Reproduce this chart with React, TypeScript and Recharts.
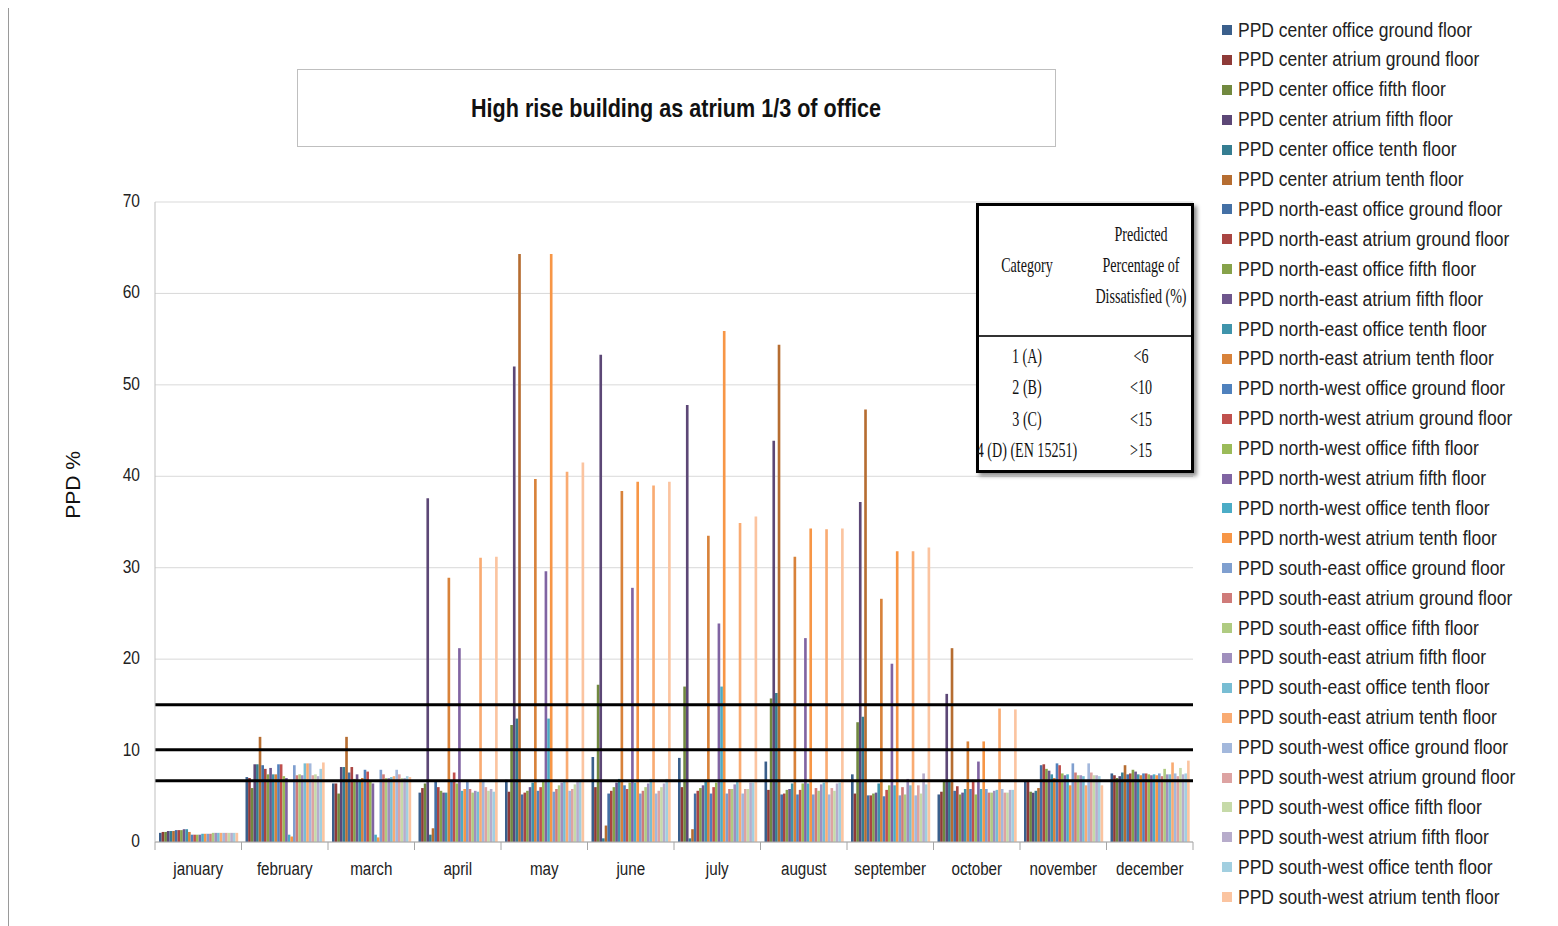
import { BarChart, Bar, XAxis, YAxis, CartesianGrid, ReferenceLine } from "recharts"

const MONTHS = [
  "january", "february", "march", "april", "may", "june",
  "july", "august", "september", "october", "november", "december",
]

const SERIES_NAMES = [
  "PPD center office ground floor", "PPD center atrium ground floor",
  "PPD center office fifth floor", "PPD center atrium fifth floor",
  "PPD center office tenth floor", "PPD center atrium tenth floor",
  "PPD north-east office ground floor", "PPD north-east atrium ground floor",
  "PPD north-east office fifth floor", "PPD north-east atrium fifth floor",
  "PPD north-east office tenth floor", "PPD north-east atrium tenth floor",
  "PPD north-west office ground floor", "PPD north-west atrium ground floor",
  "PPD north-west office fifth floor", "PPD north-west atrium fifth floor",
  "PPD north-west office tenth floor", "PPD north-west atrium tenth floor",
  "PPD south-east office ground floor", "PPD south-east atrium ground floor",
  "PPD south-east office fifth floor", "PPD south-east atrium fifth floor",
  "PPD south-east office tenth floor", "PPD south-east atrium tenth floor",
  "PPD south-west office ground floor", "PPD south-west atrium ground floor",
  "PPD south-west office fifth floor", "PPD south-west atrium fifth floor",
  "PPD south-west office tenth floor", "PPD south-west atrium tenth floor",
]

const SERIES_COLORS = [
  "#3a5f8b", "#8e3a38", "#71893f", "#5c4776", "#357d91", "#b66d31",
  "#4470a5", "#a94542", "#86a24a", "#6e568c", "#3f94ab", "#d8823a",
  "#4f81bd", "#c0504d", "#9bbb59", "#8064a2", "#4bacc6", "#f79646",
  "#7f9fcf", "#cf7b79", "#afcb81", "#a08fbd", "#78bdd3", "#f9ab72",
  "#a3b8dc", "#dda3a2", "#c6daa8", "#b7accb", "#a2cfe0", "#fbc4a0",
]

// one list per month, values in legend order
const JANUARY = [1.0, 1.1, 1.1, 1.2, 1.2, 1.2, 1.3, 1.3, 1.3, 1.4, 1.4, 1.1, 0.8, 0.8, 0.8, 0.8, 0.9, 0.9, 0.9, 0.9, 1.0, 1.0, 1.0, 1.0, 1.0, 1.0, 1.0, 1.0, 1.0, 1.0]
const FEBRUARY = [7.1, 7.0, 5.9, 8.5, 8.5, 11.5, 8.4, 8.0, 7.4, 8.1, 7.4, 7.4, 8.5, 8.5, 7.2, 7.0, 0.8, 0.6, 8.4, 7.3, 7.4, 7.3, 8.6, 8.6, 8.6, 7.3, 7.4, 7.2, 8.0, 8.7]
const MARCH = [6.4, 6.4, 5.3, 8.2, 8.2, 11.5, 7.6, 8.2, 6.9, 7.4, 6.8, 7.0, 7.9, 7.7, 6.6, 6.4, 0.8, 0.5, 7.9, 7.4, 7.0, 7.0, 7.1, 7.2, 7.9, 7.4, 7.0, 7.0, 7.2, 7.1]
const APRIL = [5.4, 5.9, 6.4, 37.6, 0.8, 1.5, 6.6, 6.0, 5.6, 5.4, 5.4, 28.9, 6.6, 7.6, 6.4, 21.2, 5.6, 5.8, 6.6, 5.8, 5.4, 5.6, 5.5, 31.1, 6.6, 6.0, 5.6, 5.8, 5.5, 31.2]
const MAY = [6.8, 5.5, 12.8, 52.0, 13.5, 64.3, 5.2, 5.4, 5.6, 6.0, 6.5, 39.7, 5.6, 6.0, 6.6, 29.6, 13.5, 64.3, 5.5, 5.8, 6.2, 6.5, 6.8, 40.5, 5.6, 5.8, 6.3, 6.6, 6.8, 41.5]
const JUNE = [9.3, 6.0, 17.2, 53.3, 0.4, 1.8, 5.3, 5.6, 6.0, 6.5, 6.9, 38.4, 6.2, 5.8, 6.5, 27.8, 6.5, 39.4, 5.3, 5.6, 6.0, 6.4, 6.9, 39.0, 5.3, 5.6, 6.0, 6.4, 6.9, 39.4]
const JULY = [9.2, 6.0, 17.0, 47.8, 0.4, 1.4, 5.3, 5.6, 5.9, 6.2, 6.8, 33.5, 5.3, 6.0, 6.5, 23.9, 17.0, 55.9, 5.3, 5.8, 5.8, 6.3, 6.8, 34.9, 5.3, 5.8, 5.8, 6.5, 6.5, 35.6]
const AUGUST = [8.8, 5.7, 15.7, 43.9, 16.3, 54.4, 5.2, 5.3, 5.7, 5.8, 6.4, 31.2, 5.2, 5.7, 6.4, 22.3, 6.4, 34.3, 5.2, 5.9, 5.6, 6.3, 6.5, 34.2, 5.2, 5.9, 5.6, 6.4, 6.5, 34.3]
const SEPTEMBER = [7.4, 5.3, 13.1, 37.2, 13.7, 47.3, 5.1, 5.1, 5.3, 5.4, 6.4, 26.6, 5.0, 5.7, 6.2, 19.5, 6.2, 31.8, 5.1, 6.0, 5.2, 6.9, 6.2, 31.8, 5.1, 6.2, 5.3, 7.5, 6.3, 32.2]
const OCTOBER = [5.2, 5.5, 6.8, 16.2, 6.8, 21.2, 5.6, 6.1, 5.2, 5.4, 5.8, 11.0, 5.8, 6.8, 5.2, 8.8, 5.8, 11.0, 5.8, 5.4, 5.4, 5.6, 5.7, 14.6, 5.8, 5.4, 5.4, 5.7, 5.7, 14.5]
const NOVEMBER = [6.6, 6.6, 5.5, 5.4, 5.6, 5.9, 8.4, 8.5, 8.0, 7.8, 7.4, 7.0, 8.6, 8.4, 7.5, 7.3, 7.4, 6.2, 8.6, 7.6, 7.3, 7.3, 7.2, 6.2, 8.6, 7.6, 7.3, 7.3, 7.2, 6.2]
const DECEMBER = [7.5, 7.3, 7.0, 7.2, 7.6, 8.4, 7.4, 7.5, 7.9, 7.7, 7.4, 7.3, 7.5, 7.5, 7.4, 7.3, 7.4, 7.3, 7.5, 7.2, 8.0, 7.4, 7.4, 8.7, 7.5, 7.2, 8.1, 7.4, 7.5, 8.9]

const MONTH_VALUES = [
  JANUARY, FEBRUARY, MARCH, APRIL, MAY, JUNE,
  JULY, AUGUST, SEPTEMBER, OCTOBER, NOVEMBER, DECEMBER,
]

const Y_TICKS = [0, 10, 20, 30, 40, 50, 60, 70]
const LIMIT_LINES = [15, 10.1, 6.7]

const TABLE_HEAD = ["Predicted", "Percentage of", "Dissatisfied (%)"]
const TABLE_ROWS = [
  ["1 (A)", "<6"],
  ["2 (B)", "<10"],
  ["3 (C)", "<15"],
  ["4 (D) (EN 15251)", ">15"],
]

const data = MONTHS.map((month, i) => {
  const row: Record<string, any> = { month }
  MONTH_VALUES[i].forEach((v, j) => {
    row["s" + j] = v
  })
  return row
})

// no narrow sans installed, so Liberation Sans gets squeezed horizontally
const SANS = "'Liberation Sans', Arial, sans-serif"
const PLOT_W = 1038
const BAND = PLOT_W / MONTHS.length

function MonthTick(props: any) {
  const { x, y, payload, index } = props
  const left = x - BAND / 2
  const right = x + BAND / 2
  return (
    <g>
      <line x1={left} x2={left} y1={y} y2={y + 8} stroke="#a6a6a6" />
      {index === MONTHS.length - 1 && (
        <line x1={right} x2={right} y1={y} y2={y + 8} stroke="#a6a6a6" />
      )}
      <text transform={`translate(${x},${y + 28}) scale(0.8,1)`} textAnchor="middle"
        dominantBaseline="middle" fontSize={19} fontFamily={SANS} fill="#222">
        {payload.value}
      </text>
    </g>
  )
}

function ValueTick(props: any) {
  const { x, y, payload } = props
  return (
    <text transform={`translate(${x},${y}) scale(0.82,1)`} textAnchor="end"
      dominantBaseline="middle" fontSize={19} fontFamily={SANS} fill="#222">
      {payload.value}
    </text>
  )
}

function LimitTable() {
  const cell = (text: string, cx: number, cy: number) => (
    <div key={text + cx + cy} style={{
      position: "absolute", left: cx, top: cy, whiteSpace: "nowrap",
      transform: "translate(-50%, -50%) scaleX(0.64)",
      fontFamily: "'Liberation Serif', serif", fontSize: 22, color: "#111",
    }}>{text}</div>
  )
  return (
    <div style={{
      position: "absolute", left: 968, top: 195, width: 212, height: 264,
      border: "3px solid #000", background: "#fff",
      boxShadow: "3px 3px 4px rgba(0,0,0,0.45)",
    }}>
      <div style={{ position: "absolute", left: 0, right: 0, top: 129, height: 2, background: "#333" }} />
      {cell("Category", 48, 59)}
      {TABLE_HEAD.map((t, i) => cell(t, 162, 28 + i * 31))}
      {TABLE_ROWS.map((r, i) => cell(r[0], 48, 150 + i * 31.3))}
      {TABLE_ROWS.map((r, i) => cell(r[1], 162, 150 + i * 31.3))}
    </div>
  )
}

function SeriesLegend() {
  return (
    <div style={{ position: "absolute", left: 1214, top: 7 }}>
      {SERIES_NAMES.map((name, i) => (
        <div key={name} style={{
          position: "absolute", left: 0, top: i * 29.9, height: 30,
          display: "flex", alignItems: "center", whiteSpace: "nowrap",
        }}>
          <span style={{ width: 10, height: 10, background: SERIES_COLORS[i], display: "inline-block" }} />
          <span style={{
            marginLeft: 6, fontFamily: SANS, fontSize: 20, color: "#222",
            display: "inline-block", transform: "scaleX(0.875)", transformOrigin: "left center",
          }}>{name}</span>
        </div>
      ))}
    </div>
  )
}

export default function App() {
  return (
    <div style={{ position: "relative", width: 1550, height: 918, background: "#fff" }}>
      <div style={{
        position: "absolute", left: 0, top: -3, width: 1550, height: 921,
        borderLeft: "1px solid #9a9a9a", borderTop: "1px solid #9a9a9a",
      }} />
      <div style={{
        position: "absolute", left: 289, top: 61, width: 757, height: 76,
        border: "1px solid #bfbfbf", display: "flex", alignItems: "center", justifyContent: "center",
      }}>
        <span style={{
          fontFamily: SANS, fontWeight: "bold", fontSize: 26, color: "#111",
          display: "inline-block", transform: "scaleX(0.83)", whiteSpace: "nowrap",
        }}>
          High rise building as atrium 1/3 of office
        </span>
      </div>
      <div style={{
        position: "absolute", left: 65, top: 477, transform: "translate(-50%, -50%) rotate(-90deg)",
        fontFamily: SANS, fontSize: 21, color: "#111", whiteSpace: "nowrap",
      }}>
        PPD %
      </div>
      <div style={{ position: "absolute", left: 0, top: 0 }}>
        <BarChart width={1200} height={900} data={data} barSize={2.64} barGap={0}
          margin={{ top: 194, right: 15, bottom: 36, left: 0 }}>
          <CartesianGrid vertical={false} stroke="#d9d9d9" />
          <XAxis dataKey="month" interval={0} tickSize={0} tickMargin={0}
            axisLine={{ stroke: "#a6a6a6" }} tick={<MonthTick />} height={30} />
          <YAxis width={147} domain={[0, 70]} ticks={Y_TICKS} tickLine={false}
            tickSize={0} tickMargin={15} axisLine={{ stroke: "#bfbfbf" }}
            tick={<ValueTick />} />
          {SERIES_NAMES.map((name, j) => (
            <Bar key={name} dataKey={"s" + j} name={name} fill={SERIES_COLORS[j]}
              isAnimationActive={false} />
          ))}
          {LIMIT_LINES.map((v) => (
            <ReferenceLine key={v} y={v} stroke="#000" strokeWidth={3} />
          ))}
        </BarChart>
      </div>
      <LimitTable />
      <SeriesLegend />
    </div>
  )
}
